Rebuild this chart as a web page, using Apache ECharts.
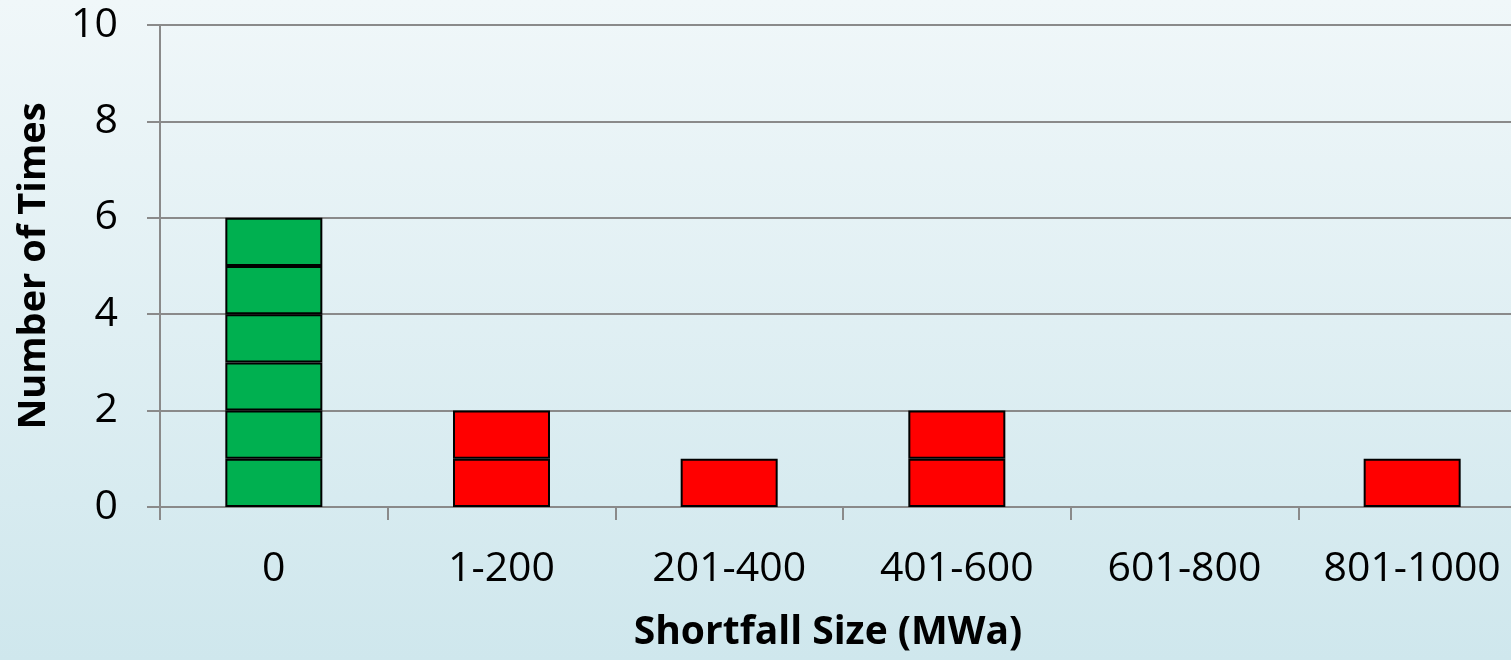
<!DOCTYPE html>
<html>
<head>
<meta charset="utf-8">
<script src="https://cdn.jsdelivr.net/npm/echarts@6/dist/echarts.min.js"></script>
<style>
  html, body { margin: 0; padding: 0; }
  #chart { width: 1511px; height: 660px; }
</style>
</head>
<body>
<div id="chart"></div>
<script>
// ---- data ----
const categories = ['0', '1-200', '201-400', '401-600', '601-800', '801-1000'];
const counts = [6, 2, 1, 2, 0, 1];
const yTicks = { min: 0, max: 10, interval: 2 };
const xTitle = 'Shortfall Size (MWa)';
const yTitle = 'Number of Times';

// ---- build stacked unit blocks from counts ----
const maxCount = Math.max(...counts);
const series = [];
for (let k = 1; k <= maxCount; k++) {
  series.push({
    type: 'bar',
    stack: 'blocks',
    barWidth: 97,
    data: counts.map(c => (c >= k ? 1 : null)),
    itemStyle: {
      color: p => (p.dataIndex === 0 ? '#00b050' : '#ff0000'),
      borderColor: '#000',
      borderWidth: 2
    },
    emphasis: { disabled: true }
  });
}

const axisGray = '#8a8a8a';
const chart = echarts.init(document.getElementById('chart'), null, { renderer: 'canvas' });
chart.setOption({
  animation: false,
  backgroundColor: new echarts.graphic.LinearGradient(0, 0, 0, 1, [
    { offset: 0, color: '#f0f7f9' },
    { offset: 1, color: '#cfe7ed' }
  ]),
  textStyle: { fontFamily: 'Open Sans', color: '#000' },
  grid: { left: 160, top: 25, width: 1366, height: 482, outerBoundsMode: 'none', containLabel: false },
  xAxis: {
    type: 'category',
    data: categories,
    boundaryGap: true,
    name: xTitle,
    nameLocation: 'middle',
    nameGap: 106,
    nameTextStyle: { fontFamily: 'Open Sans', fontWeight: 'bold', fontSize: 39, color: '#000', padding: [0, 30, 0, 0] },
    axisLine: { show: true, lineStyle: { color: axisGray, width: 2 } },
    axisTick: { show: true, interval: 0, length: 13, lineStyle: { color: axisGray, width: 2 } },
    axisLabel: { interval: 0, fontSize: 41, color: '#000', margin: 42, fontFamily: 'Open Sans' },
    splitLine: { show: false }
  },
  yAxis: {
    type: 'value',
    min: yTicks.min,
    max: yTicks.max,
    interval: yTicks.interval,
    name: yTitle,
    nameLocation: 'middle',
    nameGap: 107,
    nameTextStyle: { fontFamily: 'Open Sans', fontWeight: 'bold', fontSize: 38, color: '#000' },
    axisLine: { show: true, lineStyle: { color: axisGray, width: 2 } },
    axisTick: { show: true, length: 13, lineStyle: { color: axisGray, width: 2 } },
    axisLabel: { fontSize: 41, color: '#000', margin: 42, fontFamily: 'Open Sans' },
    splitLine: { show: true, lineStyle: { color: axisGray, width: 2 } }
  },
  series: series
});
</script>
</body>
</html>
